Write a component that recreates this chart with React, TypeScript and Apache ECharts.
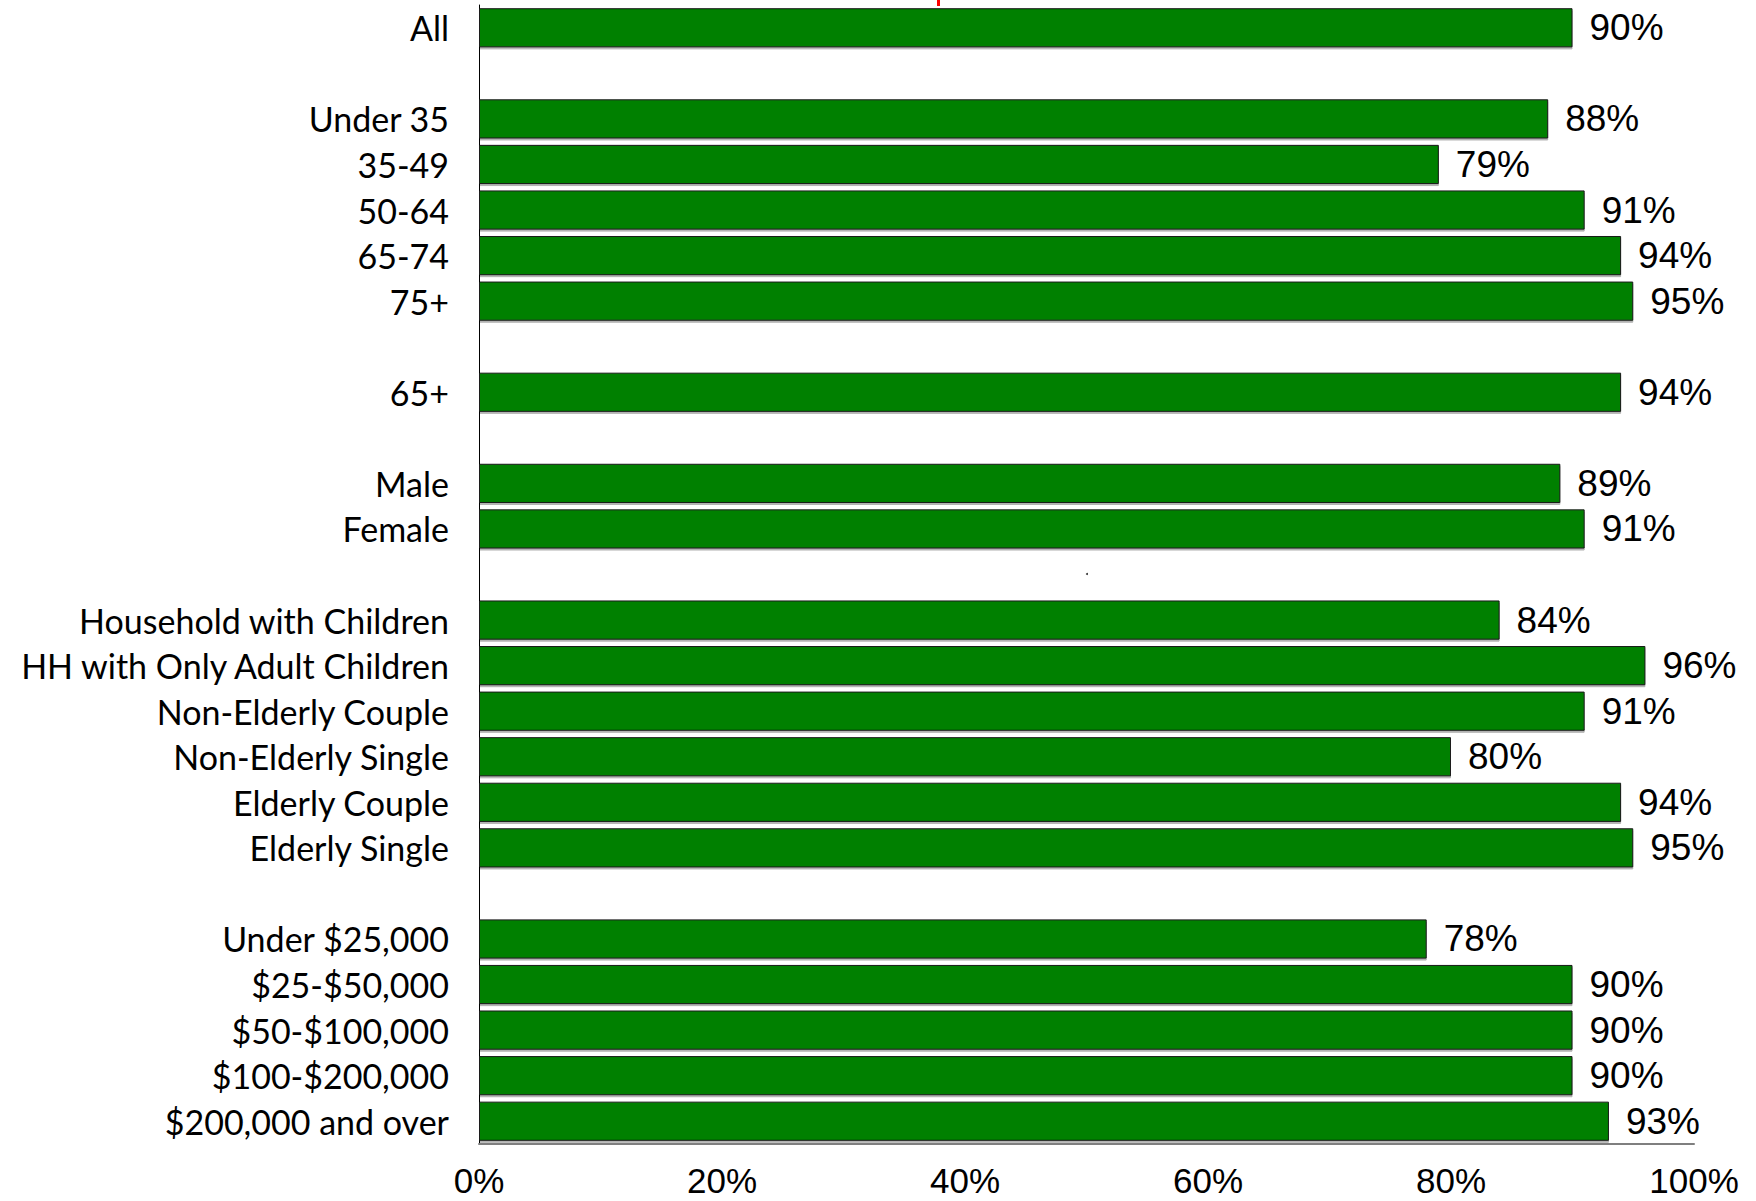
import React, { useEffect, useRef } from "react";
import * as echarts from "echarts";

const categories = [
  "All",
  " ",
  "Under 35",
  "35-49",
  "50-64",
  "65-74",
  "75+",
  "  ",
  "65+",
  "   ",
  "Male",
  "Female",
  "    ",
  "Household with Children",
  "HH with Only Adult Children",
  "Non-Elderly Couple",
  "Non-Elderly Single",
  "Elderly Couple",
  "Elderly Single",
  "     ",
  "Under $25,000",
  "$25-$50,000",
  "$50-$100,000",
  "$100-$200,000",
  "$200,000 and over",
];

const values: (number | null)[] = [
  90, null, 88, 79, 91, 94, 95, null, 94, null, 89, 91, null, 84, 96, 91, 80,
  94, 95, null, 78, 90, 90, 90, 93,
];

const xTicks = [0, 20, 40, 60, 80, 100];

export default function App() {
  const ref = useRef<HTMLDivElement>(null);
  useEffect(() => {
    document.body.style.margin = "0";
    if (!ref.current) return;
    const chart = echarts.init(ref.current, null, { renderer: "svg" });
    chart.setOption({
      animation: false,
      backgroundColor: "#ffffff",
      grid: { left: 479, right: 62, top: 5, bottom: 57, containLabel: false },
      xAxis: {
        type: "value",
        min: xTicks[0],
        max: xTicks[xTicks.length - 1],
        interval: 20,
        splitLine: { show: false },
        axisTick: { show: false },
        axisLine: {
          show: true,
          lineStyle: { color: "#7f7f7f", width: 2 },
        },
        axisLabel: {
          formatter: (v: number) => `${v}%`,
          fontFamily: "'Liberation Sans', Arial, sans-serif",
          fontSize: 35,
          lineHeight: 35,
          color: "#000",
          margin: 19,
        },
      },
      yAxis: {
        type: "category",
        inverse: true,
        data: categories,
        axisTick: { show: false },
        axisLine: { show: true, lineStyle: { color: "#000", width: 1 } },
        axisLabel: {
          fontFamily: "Lato, 'Open Sans', sans-serif",
          fontSize: 34,
          color: "#000",
          margin: 30,
        },
      },
      series: [
        {
          type: "bar",
          data: values,
          barCategoryGap: "14%",
          itemStyle: {
            color: "#008000",
            borderColor: "#1a1a1a",
            borderWidth: 1,
            shadowColor: "rgba(0,0,0,0.3)",
            shadowOffsetY: 2,
            shadowBlur: 1,
          },
          label: {
            show: true,
            position: "right",
            distance: 17,
            formatter: (p: any) => `${p.value}%`,
            fontFamily: "'Liberation Sans', Arial, sans-serif",
            fontSize: 37,
            color: "#000",
          },
        },
      ],
      graphic: [
        {
          type: "rect",
          shape: { x: 937, y: 0, width: 3, height: 6 },
          style: { fill: "#ff0000" },
        },
        {
          type: "circle",
          shape: { cx: 1087, cy: 574, r: 1 },
          style: { fill: "#333" },
        },
      ],
    });
    return () => chart.dispose();
  }, []);
  return <div ref={ref} style={{ width: 1756, height: 1201 }} />;
}
